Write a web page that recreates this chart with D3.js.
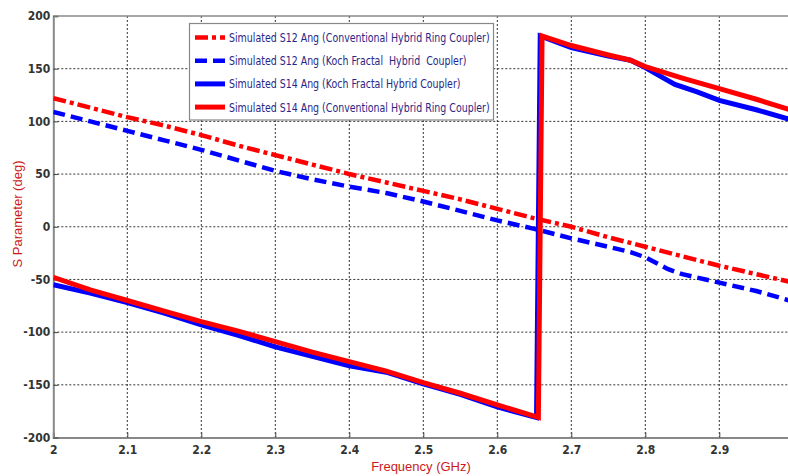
<!DOCTYPE html>
<html>
<head>
<meta charset="utf-8">
<script src="https://cdn.jsdelivr.net/npm/d3@7"></script>
<style>
  body { margin: 0; background: #fff; }
  svg { display: block; }
  .tick text { font-family: "Liberation Sans Narrow", "Arial Narrow", "DejaVu Sans Condensed", sans-serif; font-size: 12px; font-weight: bold; fill: #333; }
</style>
</head>
<body>
<svg id="chart" width="788" height="476"></svg>
<script>
// x ticks and y ticks
var xTicks = [2, 2.1, 2.2, 2.3, 2.4, 2.5, 2.6, 2.7, 2.8, 2.9]
var yTicks = [-200, -150, -100, -50, 0, 50, 100, 150, 200]

// S12 Ang, conventional hybrid ring coupler
var s12ConvFreq = [2.0, 2.05, 2.1, 2.15, 2.2, 2.25, 2.3, 2.35, 2.4, 2.45, 2.5, 2.55, 2.6, 2.65, 2.7, 2.75, 2.8, 2.85, 2.9, 2.95, 3.0]
var s12ConvVal  = [122, 113, 104, 96, 87, 77, 68, 59, 50, 42, 34, 26, 17, 8, 0, -10, -19, -28, -37, -45, -53]

// S12 Ang, koch fractal hybrid coupler
var s12KochFreq = [2.0, 2.05, 2.1, 2.15, 2.2, 2.25, 2.3, 2.35, 2.4, 2.45, 2.5, 2.55, 2.6, 2.65, 2.7, 2.75, 2.78, 2.8, 2.83, 2.85, 2.9, 2.95, 3.0]
var s12KochVal  = [109, 100, 91, 82, 73, 63, 53, 45, 38, 32, 24, 15, 6, -2, -11, -19, -24, -29, -40, -45, -53, -61, -71]

// S14 Ang, koch fractal hybrid coupler
var s14KochFreq = [2.0, 2.05, 2.1, 2.15, 2.2, 2.25, 2.3, 2.35, 2.4, 2.45, 2.5, 2.55, 2.6, 2.653, 2.658, 2.7, 2.75, 2.78, 2.8, 2.82, 2.84, 2.87, 2.9, 2.95, 3.0]
var s14KochVal  = [-55, -63, -72, -82, -93, -103, -114, -123, -132, -138, -149, -159, -171, -181, 181, 170, 162, 158, 151, 143, 135, 128, 120, 111, 101]

// S14 Ang, conventional hybrid ring coupler
var s14ConvFreq = [2.0, 2.05, 2.1, 2.15, 2.2, 2.25, 2.3, 2.35, 2.4, 2.45, 2.5, 2.55, 2.6, 2.6555, 2.6605, 2.665, 2.7, 2.75, 2.78, 2.8, 2.85, 2.9, 2.95, 3.0]
var s14ConvVal  = [-48, -60, -70, -80, -90, -99, -109, -119, -128, -137, -148, -158, -169, -181, 181, 180, 172, 163, 158, 152, 141, 131, 121, 110]

var legendLabels = [
    "Simulated S12 Ang (Conventional Hybrid Ring Coupler)",
    "Simulated S12 Ang (Koch Fractal  Hybrid  Coupler)",
    "Simulated S14 Ang (Koch Fractal Hybrid Coupler)",
    "Simulated S14 Ang (Conventional Hybrid Ring Coupler)"
]

var series = [
    {freq: s12ConvFreq, val: s12ConvVal, color: "#ff0000", dash: "13,4,4,4", width: 4.5},
    {freq: s12KochFreq, val: s12KochVal, color: "#0000ff", dash: "12,6", width: 4.5},
    {freq: s14KochFreq, val: s14KochVal, color: "#0000ff", dash: null, width: 5},
    {freq: s14ConvFreq, val: s14ConvVal, color: "#ff0000", dash: null, width: 5}
]

var svg = d3.select("#chart")

var plotLeft = 53.3, plotRight = 793.3, plotTop = 16, plotBottom = 437.5

var x = d3.scaleLinear().domain([2, 3]).range([plotLeft, plotRight])
var y = d3.scaleLinear().domain([-200, 200]).range([plotBottom, plotTop])

// grid
var grid = svg.append("g")
grid.selectAll("line.vx")
    .data(xTicks.slice(1))
    .enter().append("line")
    .attr("x1", d => x(d)).attr("x2", d => x(d))
    .attr("y1", plotTop).attr("y2", plotBottom)
    .attr("stroke", "#333").attr("stroke-width", 1).attr("stroke-dasharray", "2,2")
grid.selectAll("line.hy")
    .data(yTicks.slice(1, -1))
    .enter().append("line")
    .attr("x1", plotLeft).attr("x2", plotRight)
    .attr("y1", d => y(d)).attr("y2", d => y(d))
    .attr("stroke", "#333").attr("stroke-width", 1).attr("stroke-dasharray", "2,2")

// axes
svg.append("g")
    .attr("transform", "translate(0," + plotBottom + ")")
    .call(d3.axisBottom(x).tickValues(xTicks).tickSize(-5).tickPadding(8).tickFormat(d3.format("")))
svg.append("g")
    .attr("transform", "translate(" + plotLeft + ",0)")
    .call(d3.axisLeft(y).tickValues(yTicks).tickSize(-5).tickPadding(3).tickFormat(d => String(d)))
svg.selectAll(".domain").attr("stroke", "#888").attr("stroke-width", 2)
svg.selectAll(".tick line").attr("stroke", "#444")

// top frame line
svg.append("line")
    .attr("x1", plotLeft).attr("x2", plotRight).attr("y1", plotTop).attr("y2", plotTop)
    .attr("stroke", "#888").attr("stroke-width", 1.5)

// lines
svg.append("clipPath").attr("id", "plotclip")
    .append("rect").attr("x", plotLeft).attr("y", plotTop - 3)
    .attr("width", plotRight - plotLeft).attr("height", plotBottom - plotTop + 3)

var plot = svg.append("g").attr("clip-path", "url(#plotclip)")
series.forEach(function(s) {
    var pts = s.freq.map((f, i) => [f, s.val[i]])
    var line = d3.line().x(d => x(d[0])).y(d => y(d[1]))
    plot.append("path")
        .datum(pts)
        .attr("d", line)
        .attr("fill", "none")
        .attr("stroke", s.color)
        .attr("stroke-width", s.width)
        .attr("stroke-dasharray", s.dash)
})

// legend
var legend = svg.append("g")
legend.append("rect")
    .attr("x", 189.5).attr("y", 23.5).attr("width", 304).attr("height", 96.5)
    .attr("fill", "#fff").attr("stroke", "#888").attr("stroke-width", 1.2)
legendLabels.forEach(function(label, i) {
    var ly = 37.5 + i * 23.2
    legend.append("line")
        .attr("x1", 195).attr("x2", 225).attr("y1", ly).attr("y2", ly)
        .attr("stroke", series[i].color)
        .attr("stroke-width", series[i].width)
        .attr("stroke-dasharray", series[i].dash)
    legend.append("text")
        .attr("transform", "translate(229," + (ly + 4.5) + ") scale(0.84,1)")
        .attr("font-family", '"Liberation Sans Narrow", "Arial Narrow", "DejaVu Sans Condensed", sans-serif')
        .attr("font-size", 12.5)
        .attr("fill", "#2a2585")
        .style("white-space", "pre")
        .text(label)
})

// axis labels
svg.append("text")
    .attr("x", 421).attr("y", 471)
    .attr("text-anchor", "middle")
    .attr("font-family", "Liberation Sans, Arial, sans-serif")
    .attr("font-size", 13)
    .attr("fill", "#cc1a1a")
    .text("Frequency (GHz)")
svg.append("text")
    .attr("transform", "translate(22,214) rotate(-90)")
    .attr("text-anchor", "middle")
    .attr("font-family", "Liberation Sans, Arial, sans-serif")
    .attr("font-size", 13)
    .attr("fill", "#cc1a1a")
    .text("S Parameter (deg)")
</script>
</body>
</html>
